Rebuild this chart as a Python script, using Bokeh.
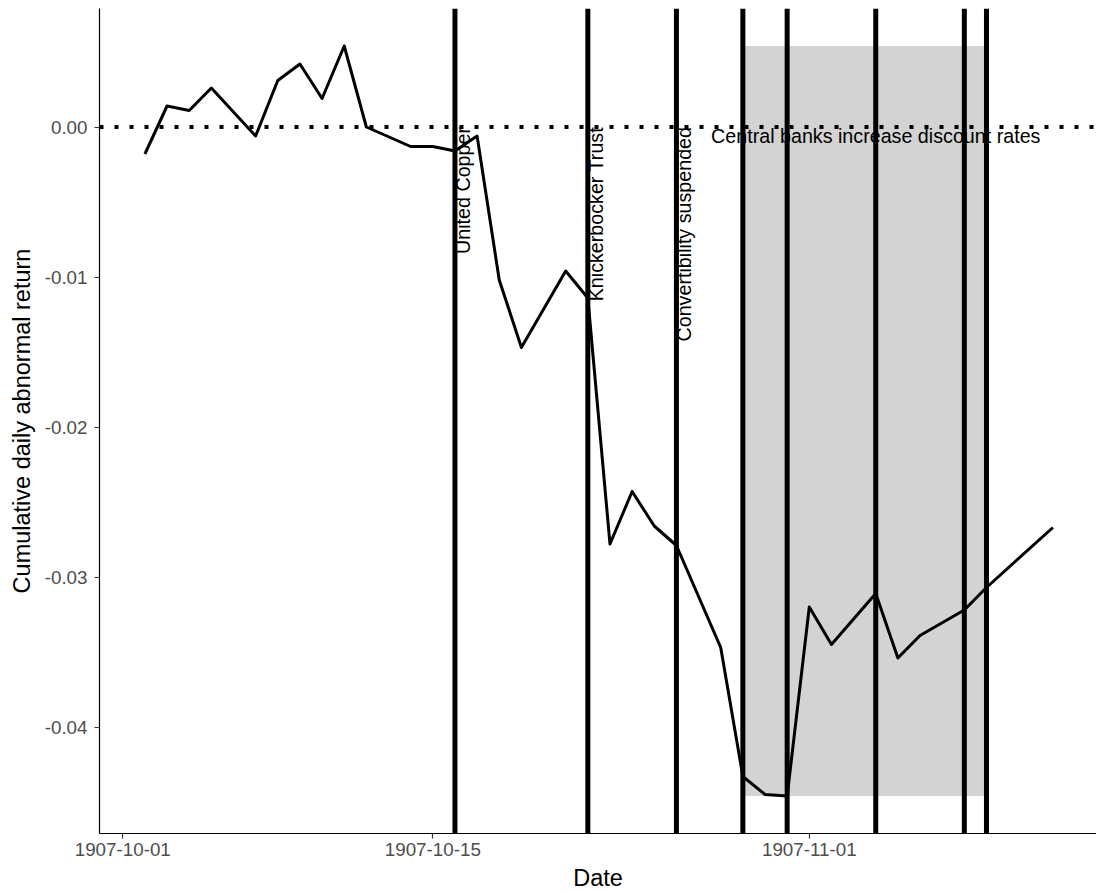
import pandas as pd
from bokeh.plotting import figure
from bokeh.models import Range1d, FixedTicker, DatetimeTickFormatter, PrintfTickFormatter, Span
from bokeh.core.properties import value
from bokeh.embed import file_html
from bokeh.resources import INLINE

# Cumulative daily abnormal return, autumn 1907
dates = ["1907-10-02", "1907-10-03", "1907-10-04", "1907-10-05", "1907-10-07",
         "1907-10-08", "1907-10-09", "1907-10-10", "1907-10-11", "1907-10-12",
         "1907-10-14", "1907-10-15", "1907-10-16", "1907-10-17", "1907-10-18",
         "1907-10-19", "1907-10-21", "1907-10-22", "1907-10-23", "1907-10-24",
         "1907-10-25", "1907-10-26", "1907-10-28", "1907-10-29", "1907-10-30",
         "1907-10-31", "1907-11-01", "1907-11-02", "1907-11-04", "1907-11-05",
         "1907-11-06", "1907-11-08", "1907-11-09", "1907-11-12"]
car = [-0.0018, 0.0014, 0.0011, 0.0026, -0.0006,
       0.0031, 0.0042, 0.0019, 0.0054, 0.0000,
       -0.0013, -0.0013, -0.0016, -0.0006, -0.0102,
       -0.0147, -0.0096, -0.0114, -0.0278, -0.0243,
       -0.0266, -0.0279, -0.0347, -0.0433, -0.0445,
       -0.0446, -0.0320, -0.0345, -0.0311, -0.0354,
       -0.0339, -0.0322, -0.0307, -0.0267]

# Event markers
event_dates = ["1907-10-16", "1907-10-22", "1907-10-26", "1907-10-29",
               "1907-10-31", "1907-11-04", "1907-11-08", "1907-11-09"]
label_dates = ["1907-10-16", "1907-10-22", "1907-10-26"]
label_texts = ["United Copper", "Knickerbocker Trust", "Convertibility suspended"]
central_date = "1907-11-04"
central_text = "Central banks increase discount rates"
shade_start, shade_end = "1907-10-29", "1907-11-09"

tick_dates = ["1907-10-01", "1907-10-15", "1907-11-01"]
y_ticks = [-0.04, -0.03, -0.02, -0.01, 0.00]

FONT = "Liberation Sans"

x = pd.to_datetime(dates)
ms = lambda d: pd.Timestamp(d).value / 1e6

xmin, xmax = ms(dates[0]), ms(dates[-1])
xpad = (xmax - xmin) * 0.05
ymin, ymax = min(car), max(car)
ypad = (ymax - ymin) * 0.05

p = figure(width=1096, height=893, x_axis_type="datetime",
           output_backend="svg", toolbar_location=None,
           x_range=Range1d(xmin - xpad, xmax + 0.96 * xpad),
           y_range=Range1d(ymin - ypad, ymax + ypad),
           min_border_left=99, min_border_right=0, min_border_top=8,
           min_border_bottom=60)
p.outline_line_color = None
p.xgrid.visible = False
p.ygrid.visible = False
p.background_fill_color = "white"
p.border_fill_color = "white"

# Shaded period spanning the series' range
p.quad(left=[pd.Timestamp(shade_start)], right=[pd.Timestamp(shade_end)],
       bottom=[ymin], top=[ymax], fill_color="#D3D3D3", line_color=None)

p.line(x, car, line_color="black", line_width=3, line_join="round")

# Event labels
p.text(x=pd.to_datetime(label_dates), y=[0.0] * len(label_dates), text=label_texts,
       angle=1.5707963, text_align="right", text_baseline="top", x_offset=-3,
       text_font=value(FONT), text_font_size="19.7px", text_color="black")
p.text(x=[pd.Timestamp(central_date)], y=[0.0], text=[central_text],
       text_align="center", text_baseline="top", y_offset=-2,
       text_font=value(FONT), text_font_size="19.7px", text_color="black")

p.add_layout(Span(location=0, dimension="width", line_color="black",
                  line_width=4, line_dash="4 11"))
for d in event_dates:
    p.add_layout(Span(location=ms(d), dimension="height", line_color="black",
                      line_width=5))

for ax in (p.xaxis[0], p.yaxis[0]):
    ax.axis_line_color = "black"
    ax.axis_line_width = 1.2
    ax.major_tick_line_color = "#333333"
    ax.major_tick_line_width = 1.2
    ax.major_tick_out = 5
    ax.major_tick_in = 0
    ax.minor_tick_line_color = None
    ax.major_label_text_font = FONT
    ax.major_label_text_font_size = "18.8px"
    ax.major_label_text_color = "#4D4D4D"
    ax.axis_label_text_font = FONT
    ax.axis_label_text_font_size = "23.5px"
    ax.axis_label_text_font_style = "normal"
    ax.axis_label_text_color = "black"

p.xaxis.ticker = FixedTicker(ticks=[ms(d) for d in tick_dates])
fmt = "%Y-%m-%d"
p.xaxis.formatter = DatetimeTickFormatter(milliseconds=fmt, seconds=fmt, minsec=fmt,
                                          minutes=fmt, hourmin=fmt, hours=fmt,
                                          days=fmt, months=fmt, years=fmt)
p.xaxis.axis_label = "Date"
p.xaxis.major_label_standoff = 4
p.xaxis.axis_label_standoff = 6

p.yaxis.ticker = FixedTicker(ticks=y_ticks)
p.yaxis.formatter = PrintfTickFormatter(format="%.2f")
p.yaxis.axis_label = "Cumulative daily abnormal return"
p.yaxis.major_label_standoff = 7
p.yaxis.axis_label_standoff = 7

open("out.html", "w").write(file_html(p, INLINE))
